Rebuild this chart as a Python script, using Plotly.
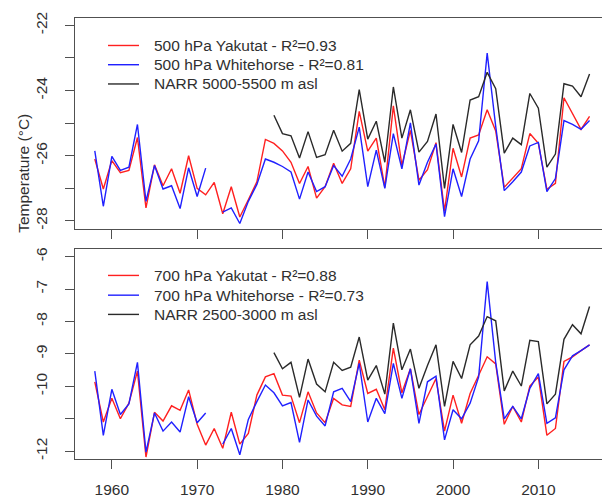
import plotly.graph_objects as go

years = list(range(1958, 2017))

yak500 = [-26.10, -27.02, -26.15, -26.52, -26.45, -25.44, -27.60, -26.28, -26.92, -26.40,
          -27.15, -26.00, -27.00, -27.20, -26.82, -27.78, -26.95, -27.88, -27.35, -26.80,
          -25.50, -25.62, -25.85, -26.20, -26.85, -26.33, -27.30, -26.95, -26.23, -26.85,
          -26.40, -24.64, -25.86, -25.46, -26.97, -24.47, -26.30, -25.22, -26.75, -26.43,
          -25.60, -27.70, -25.77, -26.65, -25.46, -25.36, -24.59, -25.24, -26.97, -26.70,
          -26.40, -25.32, -25.62, -27.03, -26.85, -24.22, -24.69, -25.19, -24.79]

whi500 = [-25.85, -27.55, -26.02, -26.45, -26.35, -25.04, -27.40, -26.30, -27.02, -26.92,
          -27.62, -26.37, -27.25, -26.38, None, -27.73, -27.60, -28.08, -27.40, -26.88,
          -26.10, -26.20, -26.33, -26.50, -27.33, -26.50, -27.10, -26.95, -26.30, -26.63,
          -26.10, -25.12, -26.95, -25.83, -27.00, -25.32, -26.40, -24.99, -26.90, -26.20,
          -25.64, -27.87, -26.40, -27.25, -26.10, -25.54, -22.85, -25.10, -27.07, -26.80,
          -26.50, -25.70, -25.59, -27.10, -26.70, -24.92, -25.04, -25.19, -24.92]

narr500 = [None] * 21 + [
          -24.76, -25.32, -25.39, -26.07, -25.26, -26.05, -25.97, -25.22, -25.86,
          -25.62, -23.97, -25.49, -24.94, -26.20, -23.89, -25.46, -24.59, -25.89, -25.56,
          -24.72, -27.00, -25.04, -25.90, -24.29, -24.19, -23.44, -23.94, -25.92, -25.46,
          -25.66, -24.09, -24.54, -26.35, -25.95, -23.79, -23.86, -24.19, -23.49]

yak700 = [-9.86, -11.10, -10.37, -11.00, -10.52, -9.53, -12.18, -10.80, -11.07, -10.60,
          -10.74, -10.11, -11.17, -11.81, -11.30, -11.91, -10.80, -11.78, -11.45, -10.27,
          -9.71, -9.61, -10.27, -10.30, -11.12, -10.17, -10.82, -11.12, -10.37, -10.57,
          -10.62, -9.19, -10.22, -10.09, -10.72, -8.82, -10.20, -9.46, -10.87, -10.30,
          -9.76, -11.38, -10.27, -11.14, -10.22, -9.66, -9.09, -9.31, -11.17, -10.62,
          -11.10, -9.99, -9.71, -11.51, -11.30, -9.23, -9.09, -8.90, -8.72]

whi700 = [-9.53, -11.51, -10.09, -10.87, -10.54, -9.26, -12.03, -10.82, -11.38, -11.10,
          -11.41, -10.32, -11.12, -10.82, None, -11.78, -11.30, -12.11, -11.02, -10.47,
          -9.96, -10.20, -10.60, -10.50, -11.73, -10.42, -10.92, -11.22, -10.17, -10.06,
          -10.47, -9.29, -11.10, -10.37, -10.84, -9.29, -10.37, -9.46, -11.14, -9.86,
          -9.69, -11.65, -10.72, -11.00, -10.52, -9.71, -6.77, -9.26, -11.00, -10.62,
          -11.00, -10.06, -9.61, -11.14, -10.97, -9.49, -9.06, -8.90, -8.72]

narr700 = [None] * 21 + [
          -8.96, -9.46, -9.26, -10.34, -9.16, -9.93, -10.17, -9.26, -9.51,
          -9.41, -8.48, -9.81, -9.36, -10.24, -8.05, -9.49, -8.85, -10.06, -9.36,
          -8.72, -10.62, -9.23, -9.76, -8.72, -8.45, -7.85, -7.98, -10.14, -9.53,
          -9.99, -8.58, -8.62, -10.54, -10.24, -8.55, -8.10, -8.38, -7.54]

names_top = ["500 hPa Yakutat - R²=0.93", "500 hPa Whitehorse - R²=0.81", "NARR 5000-5500 m asl"]
names_bot = ["700 hPa Yakutat - R²=0.88", "700 hPa Whitehorse - R²=0.73", "NARR 2500-3000 m asl"]

x_ticks = [1960, 1970, 1980, 1990, 2000, 2010]
top_ticks = [-28, -27, -26, -25, -24, -23, -22]
top_text = ["-28", "", "-26", "", "-24", "", "-22"]
bot_ticks = [-12, -11, -10, -9, -8, -7, -6]
bot_text = ["-12", "", "-10", "-9", "-8", "-7", "-6"]

RED = "#ff2020"
BLUE = "#2020ff"
BLACK = "#2a2a2a"
FONT = "Liberation Sans, Arial, sans-serif"
TXT = "#303030"
AX = "#505050"

W, H = 602, 500
ML, MR, MT, MB = 75, 0, 0, 41
PW, PH = W - ML - MR, H - MT - MB


def px(x):
    return (x - ML) / PW


def py(y):
    return 1 - (y - MT) / PH


fig = go.Figure()
series = [
    (yak500, names_top[0], RED, "x", "y"),
    (whi500, names_top[1], BLUE, "x", "y"),
    (narr500, names_top[2], BLACK, "x", "y"),
    (yak700, names_bot[0], RED, "x2", "y2"),
    (whi700, names_bot[1], BLUE, "x2", "y2"),
    (narr700, names_bot[2], BLACK, "x2", "y2"),
]
for vals, name, col, xa, ya in series:
    fig.add_trace(go.Scatter(x=years, y=vals, name=name, mode="lines",
                             line=dict(color=col, width=1.4), connectgaps=False,
                             xaxis=xa, yaxis=ya, showlegend=False))

# legend blocks (one per panel)
shapes, annots = [], []
leg_rows = [40, 59.5, 79, 273, 293, 312.5]
for (vals, name, col, xa, ya), yrow in zip(series, leg_rows):
    shapes.append(dict(type="line", xref="paper", yref="paper",
                       x0=px(108), x1=px(139), y0=py(yrow), y1=py(yrow),
                       line=dict(color=col, width=1.4)))
    annots.append(dict(text=name, xref="paper", yref="paper", x=px(152), y=py(yrow),
                       xanchor="left", yanchor="middle", showarrow=False,
                       font=dict(family=FONT, size=15.5, color=TXT)))

annots.append(dict(text="Temperature (°C)", xref="paper", yref="paper",
                   x=px(24), y=py(170), xanchor="center", yanchor="middle",
                   textangle=-90, showarrow=False,
                   font=dict(family=FONT, size=15.5, color=TXT)))

xcommon = dict(range=[1955.68, 2017.46], tickvals=x_ticks, ticks="outside", ticklen=9,
               tickcolor=AX, tickwidth=1.2, showline=True, linecolor=AX, linewidth=1.2,
               mirror=True, showgrid=False, zeroline=False, ticklabelstandoff=7,
               tickfont=dict(family=FONT, size=15.5, color=TXT))
ycommon = dict(ticks="outside", ticklen=9, tickcolor=AX, tickwidth=1.2, showline=True,
               linecolor=AX, linewidth=1.2, showgrid=False, zeroline=False, tickangle=-90,
               ticklabelstandoff=12, tickfont=dict(family=FONT, size=15.5, color=TXT))

fig.update_layout(
    width=W, height=H,
    margin=dict(l=ML, r=MR, t=MT, b=MB),
    paper_bgcolor="white", plot_bgcolor="white",
    xaxis=dict(domain=[0, 1], anchor="y", showticklabels=False, **xcommon),
    xaxis2=dict(domain=[0, 1], anchor="y2", matches="x", **xcommon),
    yaxis=dict(domain=[py(225.7), py(11.7)], anchor="x", range=[-28.24, -21.76],
               tickvals=top_ticks, ticktext=top_text, **ycommon),
    yaxis2=dict(domain=[0, py(246)], anchor="x2", range=[-12.24, -5.76],
                tickvals=bot_ticks, ticktext=bot_text, **ycommon),
    showlegend=False,
    shapes=shapes,
    annotations=annots,
)

fig.write_html("out.html")
